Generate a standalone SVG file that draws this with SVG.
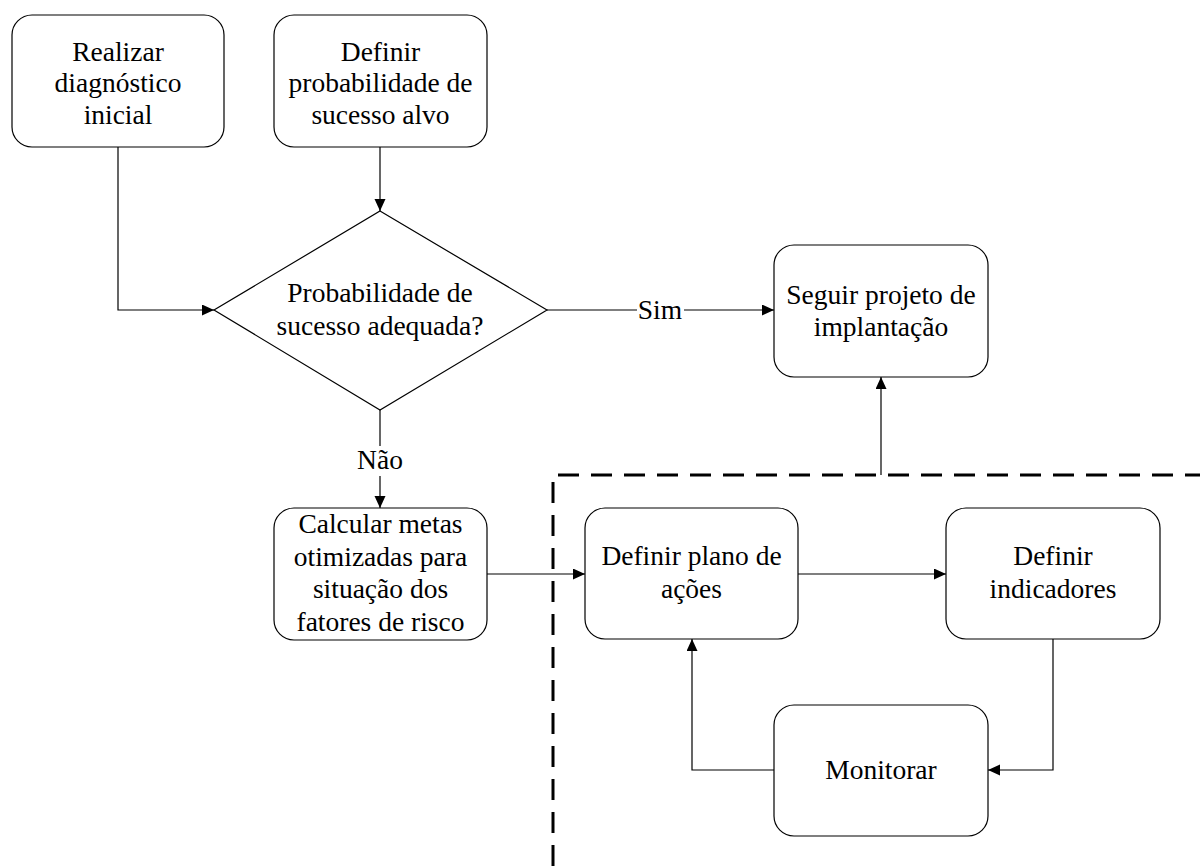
<svg xmlns="http://www.w3.org/2000/svg" width="1200" height="866" viewBox="0 0 1200 866">
<style>
.box{fill:#fff;stroke:#000;stroke-width:1.2}
.t{font-family:"Liberation Serif","Times New Roman",serif;font-size:27.5px;fill:#000;text-anchor:middle}
.c{fill:none;stroke:#000;stroke-width:1.2}
.dash{fill:none;stroke:#000;stroke-width:3;stroke-dasharray:21 12}
</style>
<defs>
<marker id="ah" markerUnits="userSpaceOnUse" markerWidth="14" markerHeight="12" refX="12" refY="5.5" orient="auto">
<path d="M0,0 L12,5.5 L0,11 Z" fill="#000"/>
</marker>
</defs>
<rect width="1200" height="866" fill="#fff"/>
<g id="connectors">
<path class="c" d="M118,147 V310 H214" marker-end="url(#ah)"/>
<path class="c" d="M380,147 V211" marker-end="url(#ah)"/>
<path class="c" d="M547,310 H774" marker-end="url(#ah)"/>
<path class="c" d="M380,410 V508" marker-end="url(#ah)"/>
<path class="c" d="M881,475 V377" marker-end="url(#ah)"/>
<path class="c" d="M487,574 H585" marker-end="url(#ah)"/>
<path class="c" d="M798,574 H946" marker-end="url(#ah)"/>
<path class="c" d="M1053,639 V770 H988" marker-end="url(#ah)"/>
<path class="c" d="M774,770 H692 V639" marker-end="url(#ah)"/>
<rect x="637" y="296" width="47" height="28" fill="#fff"/>
<text class="t" x="660" y="319">Sim</text>
<rect x="355" y="446" width="50" height="30" fill="#fff"/>
<text class="t" x="380" y="469">Não</text>
</g>
<g id="boundary">
<path class="dash" d="M553,866 V475 H1200"/>
</g>
<g id="n1">
<rect class="box" x="12" y="15" width="212" height="132" rx="20"/>
<text class="t" x="118" y="60.5">Realizar</text>
<text class="t" x="118" y="92">diagnóstico</text>
<text class="t" x="118" y="123.5">inicial</text>
</g>
<g id="n2">
<rect class="box" x="274" y="15" width="213" height="132" rx="20"/>
<text class="t" x="380.5" y="60.5">Definir</text>
<text class="t" x="380.5" y="92">probabilidade de</text>
<text class="t" x="380.5" y="123.5">sucesso alvo</text>
</g>
<g id="decision">
<path class="box" d="M380,211 L547,310 L380,410 L214,310 Z"/>
<text class="t" x="380" y="302">Probabilidade de</text>
<text class="t" x="380" y="334.5">sucesso adequada?</text>
</g>
<g id="n3">
<rect class="box" x="774" y="245" width="214" height="132" rx="20"/>
<text class="t" x="881" y="304">Seguir projeto de</text>
<text class="t" x="881" y="336">implantação</text>
</g>
<g id="n4">
<rect class="box" x="274" y="508" width="213" height="132" rx="20"/>
<text class="t" x="380.5" y="533">Calcular metas</text>
<text class="t" x="380.5" y="565.5">otimizadas para</text>
<text class="t" x="380.5" y="598">situação dos</text>
<text class="t" x="380.5" y="630.5">fatores de risco</text>
</g>
<g id="n5">
<rect class="box" x="585" y="508" width="213" height="131" rx="20"/>
<text class="t" x="691.5" y="565">Definir plano de</text>
<text class="t" x="691.5" y="597.5">ações</text>
</g>
<g id="n6">
<rect class="box" x="946" y="508" width="214" height="131" rx="20"/>
<text class="t" x="1053" y="565">Definir</text>
<text class="t" x="1053" y="597.5">indicadores</text>
</g>
<g id="n7">
<rect class="box" x="774" y="705" width="214" height="131" rx="20"/>
<text class="t" x="881" y="779">Monitorar</text>
</g>
</svg>
